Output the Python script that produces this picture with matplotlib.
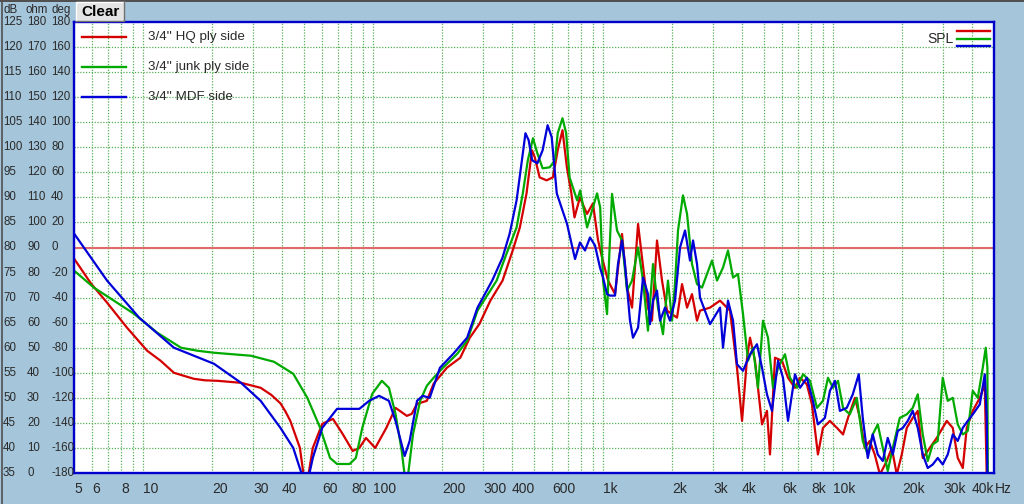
import matplotlib
matplotlib.use("Agg")
import matplotlib.pyplot as plt
import matplotlib.transforms as mtransforms
from matplotlib.lines import Line2D
from matplotlib.patches import Rectangle

plt.rcParams['font.family'] = ['Liberation Sans', 'DejaVu Sans']

# ---- data (Hz, dB) ----
red_f = [5.0, 5.93, 6.96, 8.5, 10.4, 11.9, 13.6, 15.0, 16.6, 18.5, 21, 26.6, 32.4, 36, 39.5, 41.5, 43.6,
         48, 50, 52, 54.6, 60, 66.8,
         73.6, 81.4, 87, 93, 102, 114, 125, 140, 147, 155, 171, 183, 209, 239, 263, 290, 323, 365, 404,
         434, 464, 490, 504, 529, 567, 604, 634, 665, 695, 727, 750, 792, 850, 902, 949, 988, 1049, 1125,
         1207, 1269, 1334, 1417, 1474, 1565, 1629, 1713, 1801, 1894, 1991, 2093, 2201, 2314, 2432, 2557,
         2635, 2912, 3220, 3558, 3816, 4013, 4220, 4347, 4570, 4901, 5150, 5308, 5581, 5987, 6358, 6818,
         7173, 7680, 8080, 8578, 9021, 9672, 10380, 11030, 11590, 12430, 13060, 13710, 14410, 15150,
         15960, 17090, 17970, 18890, 19860, 20880, 22170, 23310, 24500, 26290, 28190, 31160, 33090,
         34780, 36580, 38060, 40430, 43370, 45590, 46500]
red_db = [77.8, 72.8, 69, 64, 59.4, 57.4, 55, 54.4, 53.8, 53.5, 53.4, 53, 52, 50.6, 48.9, 47.3, 45.4,
          40, 34, 34, 40, 44.8, 45.8,
          42.8, 39.4, 40, 42, 40, 44, 48, 46.4, 46.8, 48.8, 49.4, 52.8, 56, 58, 62, 64.8, 69.4, 73.4, 79.4,
          84, 90.8, 99.4, 98, 94, 93.4, 94, 99.4, 103.4, 96, 90.8, 86, 90, 86.7, 88.8, 81.5, 78, 73.4, 70.7,
          82.7, 72, 68, 84.7, 78, 68, 65.4, 81.4, 73.4, 67.4, 66.7, 66, 72.7, 68, 70.7, 65.4,
          67.4, 68, 69.4, 67.4, 56, 45.4, 58, 62, 57.4, 44.7, 47.4, 38.7, 58, 57.4, 54, 52,
          54, 52.7, 48.7, 38.7, 44, 45.4, 44, 42.7, 46, 50, 46, 40, 41.4, 38.7,
          34.7, 37.4, 40, 34.7, 38.7, 44, 46, 47.4, 38, 40, 42, 45.4, 44,
          38, 36, 44, 47.4, 50, 52.7, 34]

green_f = [5.0, 6.1, 7.45, 9.1, 11.5, 14.6, 17.2, 20.3, 29.4, 37, 44.9, 51.7, 58.8, 64.9, 69.6, 79, 84, 89.6,
           99, 109, 117, 125, 133, 137, 141.6, 149, 160, 171, 183, 201, 232, 256, 284, 344, 380, 420, 447,
           470, 495, 517, 545, 585, 617, 634, 665, 690, 714, 770, 794, 851, 940, 970, 998, 1039, 1060,
           1092, 1148, 1207, 1269, 1334, 1417, 1489, 1565, 1646, 1730, 1819, 1912, 1991, 2051, 2114,
           2222, 2314, 2432, 2557, 2688, 2826, 2971, 3124, 3317, 3487, 3667, 3854, 4053, 4262, 4481,
           4708, 4950, 5205, 5472, 5754, 6170, 6486, 6962, 7391, 7924, 8498, 9021, 9489, 9976, 10490,
           11030, 11800, 12660, 13440, 14130, 14850, 15620, 16420, 17260, 18150, 19470, 20880, 22170,
           23310, 24500, 25760, 27080, 28470, 29930, 31470, 33090, 34780, 36580, 38450, 40430, 42500,
           44680, 46030, 46800, 47000]
green_db = [75.4, 72, 69.4, 66.8, 63, 60, 59.4, 59, 58.4, 57.2, 54.8, 50, 44, 38, 36.8, 36.8, 38, 44,
            50.8, 53.4, 52, 46.8, 39.4, 34.5, 34.5, 42.8, 49.4, 52.4, 54, 56, 58.8, 61.4, 67.4, 73.4, 78.8, 84, 90.8,
            97.4, 101.8, 98.8, 95.8, 96, 97.4, 102.8, 105.8, 102.8, 94, 89.4, 91.4, 84, 90.8, 88, 73.4, 66.7, 77.4,
            90.7, 83.4, 81.4, 71.4, 73.4, 80, 73.4, 63.4, 76.7, 68, 62.7, 73.4, 65.4, 72.7, 83.4,
            90.4, 86.7, 76.7, 72.7, 72, 74.7, 77.4, 73.4, 76, 79.4, 74, 74.7, 66.7, 57.4, 60,
            52, 65.4, 62, 52, 56, 58.7, 54, 52, 54.7, 53.4, 48, 49.4, 54, 52, 53.4,
            48, 46.7, 50, 41.4, 38.7, 42.7, 44.7, 40, 35.4, 40, 46, 46.7, 48,
            50.7, 42.7, 37.4, 40.7, 41.4, 54, 49.4, 50, 44.7, 42.7, 43.4, 51.4,
            50, 56, 60, 56, 34]

blue_f = [5.0, 6.96, 9.6, 13.6, 20.3, 26.6, 32.4, 39.5, 44.9, 49.5, 52, 54.6, 60, 69.6, 87, 96, 106,
          117, 125, 137, 144, 155, 164, 176, 195, 223, 256, 284, 329, 365, 392, 420, 443, 459, 474, 491,
          517, 545, 573, 597, 628, 696, 754, 792, 833, 876, 921, 968, 998, 1039, 1070, 1125, 1159, 1207,
          1243, 1307, 1347, 1417, 1489, 1565, 1597, 1646, 1713, 1766, 1856, 1951, 2051, 2157, 2268,
          2384, 2457, 2557, 2635, 2912, 3220, 3317, 3487, 3667, 3816, 4053, 4347, 4661, 4901, 5150,
          5416, 5754, 6047, 6358, 6818, 7173, 7680, 8158, 8578, 9198, 9672, 10170, 10690, 11450,
          12160, 12910, 13440, 14130, 14850, 15620, 16420, 17260, 18150, 19080, 20060, 21090, 22170,
          23310, 24500, 25760, 27080, 28470, 29930, 31470, 33090, 34780, 36580, 38450, 40430, 43370,
          45590, 46500, 46800]
blue_db = [82.8, 73.4, 66, 60, 56.8, 53, 49.4, 44, 40, 34, 33.5, 38, 44, 47.8, 47.8, 49.4, 50.4,
           49.4, 45.4, 38.4, 41.4, 49.4, 50.4, 50, 56, 58.8, 62, 68, 73.4, 78, 82.8, 89.4, 97.4, 102.8, 101.4, 97.4,
           96.8, 99.4, 104.4, 102, 90.8, 84.7, 77.7, 81, 79.4, 82, 80.4, 76, 74, 70.7, 70.4, 70.4, 76.7, 81.4,
           76.7, 65.4, 62, 64, 74, 70.7, 64.7, 69.4, 71.4, 65.4, 68, 65.4, 69.4, 80, 83.4,
           77.4, 81.4, 76.7, 70, 64.7, 68, 60, 69.4, 65.4, 56.7, 55.4, 58.7, 60.7, 56, 50.7,
           47.4, 57.4, 54, 45.4, 54.7, 52, 54, 49.4, 44.7, 46, 51.4, 53.4, 47.4, 48,
           50.7, 54.7, 46, 38, 42.7, 38.7, 37.4, 42, 38.7, 43.4, 44, 45.4, 47.4,
           44, 38.7, 36, 36.7, 38, 36.7, 38.7, 42.7, 41.4, 44, 45.4, 46.7, 48.7,
           54.7, 46, 34]

series_names = ["3/4'' HQ ply side", "3/4'' junk ply side", "3/4'' MDF side"]
series_colors = ['#D40000', '#00AA00', '#0000D8']

db_ticks = [125, 120, 115, 110, 105, 100, 95, 90, 85, 80, 75, 70, 65, 60, 55, 50, 45, 40, 35]
ohm_ticks = [180, 170, 160, 150, 140, 130, 120, 110, 100, 90, 80, 70, 60, 50, 40, 30, 20, 10, 0]
deg_ticks = [180, 160, 140, 120, 100, 80, 60, 40, 20, 0, -20, -40, -60, -80, -100, -120, -140, -160, -180]

freq_ticks = [5, 6, 8, 10, 20, 30, 40, 60, 80, 100, 200, 300, 400, 600,
              1000, 2000, 3000, 4000, 6000, 8000, 10000, 20000, 30000, 40000]
freq_labels = ['5', '6', '8', '10', '20', '30', '40', '60', '80', '100', '200', '300', '400', '600',
               '1k', '2k', '3k', '4k', '6k', '8k', '10k', '20k', '30k', '40k']

# ---- figure ----
W, H = 1024, 504
fig = plt.figure(figsize=(W / 100, H / 100), dpi=100)
fig.patch.set_facecolor('#A5C5DA')


def px(x):
    return x / W


def py(y):
    return 1 - y / H


ax = fig.add_axes([px(74), py(473), 920 / W, 451 / H])
ax.set_facecolor('white')
ax.set_xscale('log')
ax.set_xlim(5, 50000)
ax.set_ylim(35, 125)
ax.set_xticks([])
ax.set_yticks([])
ax.minorticks_off()
for s in ax.spines.values():
    s.set_color('#0000CC')
    s.set_linewidth(1.7)
    s.set_zorder(10)

# grid
grid_kw = dict(color='#55B055', lw=0.9, ls=(0, (1, 1.3)), zorder=1)
for dec in [1, 10, 100, 1000, 10000]:
    for d in range(1, 10):
        f = d * dec
        if 5 <= f <= 50000:
            ax.axvline(f, **grid_kw)
for v in range(40, 125, 5):
    ax.axhline(v, **grid_kw)

ax.axhline(80, color='#E06A6A', lw=1.5, zorder=2)

for f, d, c in [(red_f, red_db, series_colors[0]),
                (green_f, green_db, series_colors[1]),
                (blue_f, blue_db, series_colors[2])]:
    ax.plot(f, d, color=c, lw=1.6, zorder=3, solid_joinstyle='round')

# left value columns
trans = mtransforms.blended_transform_factory(fig.transFigure, ax.transData)
lab_kw = dict(fontsize=8.3, color='#2A2A2A', va='center', ha='left')
for db, oh, dg in zip(db_ticks, ohm_ticks, deg_ticks):
    fig.text(px(3), db, str(db), transform=trans, **lab_kw)
    fig.text(px(27), db, str(oh), transform=trans, **lab_kw)
    fig.text(px(51), db, str(dg), transform=trans, **lab_kw)
fig.text(px(3), py(10), 'dB', **lab_kw)
fig.text(px(26), py(10), 'ohm', **lab_kw)
fig.text(px(52), py(10), 'deg', **lab_kw)

# frequency labels
transx = mtransforms.blended_transform_factory(ax.transData, fig.transFigure)
for f, lab in zip(freq_ticks, freq_labels):
    fig.text(f, py(489), lab, transform=transx, fontsize=10, color='#2A2A2A',
             ha='left', va='center')
fig.text(px(995), py(489), 'Hz', fontsize=10, color='#2A2A2A', ha='left', va='center')

# legend
for i, (name, c) in enumerate(zip(series_names, series_colors)):
    yy = 37 + 30 * i
    fig.add_artist(Line2D([px(82), px(126)], [py(yy), py(yy)], color=c, lw=1.7))
    fig.text(px(148), py(yy), name, fontsize=9.6, color='#2A2A2A', ha='left', va='center')

fig.text(px(927), py(39), 'SPL', fontsize=10, color='#2A2A2A', ha='left', va='center')
for i, c in enumerate(series_colors):
    yy = 31 + 7.5 * i
    fig.add_artist(Line2D([px(957), px(990)], [py(yy), py(yy)], color=c, lw=1.7))

# Clear button
fig.add_artist(Rectangle((px(76), py(21)), 48 / W, 19 / H, transform=fig.transFigure,
                         facecolor='#E4E4E4', edgecolor='none'))
fig.add_artist(Line2D([px(76), px(76), px(124)], [py(21), py(2), py(2)], color='white', lw=1))
fig.add_artist(Line2D([px(76), px(124), px(124)], [py(21), py(21), py(2)], color='#707070', lw=1))
fig.text(px(100), py(12), 'Clear', fontsize=11, fontweight='bold', color='black',
         ha='center', va='center')

# window edges
fig.add_artist(Rectangle((0, py(2)), 1, 2 / H, transform=fig.transFigure,
                         facecolor='#505050', edgecolor='none'))
fig.add_artist(Line2D([px(1.5), px(1.5)], [0, 1], color='#505050', lw=1.2))

fig.savefig('out.png', dpi=100, facecolor=fig.get_facecolor())
